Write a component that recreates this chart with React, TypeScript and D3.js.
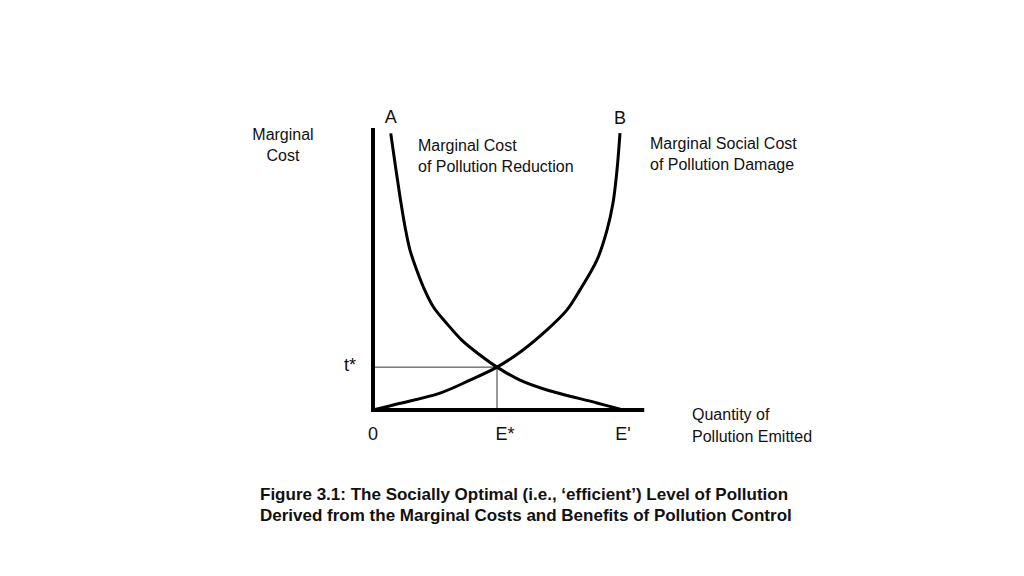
import React, { useEffect, useRef } from 'react'
import * as d3 from 'd3'

// quantity of pollution emitted (E' = 10), marginal cost (0..10)
const mcReduction: [number, number][] = [
  [0.71, 9.81], [0.92, 8.51], [1.1, 7.45], [1.28, 6.5], [1.48, 5.67],
  [1.75, 4.96], [2.01, 4.37], [2.41, 3.66], [2.95, 3.07], [3.55, 2.48],
  [4.28, 1.95], [4.96, 1.52], [5.88, 1.06], [6.96, 0.71], [8.96, 0.25],
  [10, 0],
]
const mscDamage: [number, number][] = [
  [0, 0], [0.96, 0.21], [2.68, 0.6], [3.88, 1.06], [4.96, 1.52],
  [6.0, 2.13], [6.96, 2.84], [7.76, 3.55], [8.28, 4.26], [8.96, 5.32],
  [9.36, 6.38], [9.6, 7.34], [9.76, 8.51], [9.88, 9.82],
]
const eStar = 4.96
const tStar = 1.52
const ePrime = 10
const xTicks = [
  { v: 0, label: '0', dx: 0 },
  { v: eStar, label: 'E*', dx: 8 },
  { v: ePrime, label: "E'", dx: 0 },
]
const caption = [
  'Figure 3.1: The Socially Optimal (i.e., \u2018efficient\u2019) Level of Pollution',
  'Derived from the Marginal Costs and Benefits of Pollution Control',
]

export default function App() {
  const ref = useRef<SVGSVGElement>(null)

  useEffect(() => {
    const svg = d3.select(ref.current)
    svg.selectAll('*').remove()
    const font = 'Liberation Sans, Arial, sans-serif'

    const x = d3.scaleLinear().domain([0, 10]).range([373, 623])
    const y = d3.scaleLinear().domain([0, 10]).range([410, 128])

    // guide lines to the equilibrium
    svg.append('line')
      .attr('x1', x(0)).attr('x2', x(eStar))
      .attr('y1', y(tStar)).attr('y2', y(tStar))
      .attr('stroke', '#333').attr('stroke-width', 1)
    svg.append('line')
      .attr('x1', x(eStar)).attr('x2', x(eStar))
      .attr('y1', y(tStar)).attr('y2', y(0))
      .attr('stroke', '#333').attr('stroke-width', 1)

    const line = d3.line<[number, number]>()
      .x(d => x(d[0])).y(d => y(d[1]))
      .curve(d3.curveCatmullRom.alpha(0.5))

    svg.append('path').attr('d', line(mcReduction))
      .attr('fill', 'none').attr('stroke', '#000').attr('stroke-width', 3)
    svg.append('path').attr('d', line(mscDamage))
      .attr('fill', 'none').attr('stroke', '#000').attr('stroke-width', 3)

    // axes
    svg.append('line')
      .attr('x1', x(0)).attr('x2', x(0))
      .attr('y1', y(10)).attr('y2', y(0) + 2)
      .attr('stroke', '#000').attr('stroke-width', 4)
    svg.append('line')
      .attr('x1', x(0) - 2).attr('x2', x(10.85))
      .attr('y1', y(0)).attr('y2', y(0))
      .attr('stroke', '#000').attr('stroke-width', 4)

    const text = (tx: number, ty: number, s: string, size: number, anchor = 'start', weight = 'normal') =>
      svg.append('text')
        .attr('x', tx).attr('y', ty)
        .attr('font-family', font).attr('font-size', size)
        .attr('font-weight', weight)
        .attr('text-anchor', anchor)
        .attr('fill', '#111')
        .text(s)

    // axis tick labels
    xTicks.forEach(t => text(x(t.v) + t.dx, 440, t.label, 18, 'middle'))
    text(x(0) - 23, y(tStar) + 4, 't*', 18, 'middle')

    text(x(mcReduction[0][0]), 123, 'A', 18, 'middle')
    text(x(mscDamage[mscDamage.length - 1][0]), 124, 'B', 18, 'middle')

    text(283, 140, 'Marginal', 16, 'middle')
    text(283, 161, 'Cost', 16, 'middle')
    text(418, 151, 'Marginal Cost', 16)
    text(418, 172, 'of Pollution Reduction', 16)
    text(650, 149, 'Marginal Social Cost', 16)
    text(650, 170, 'of Pollution Damage', 16)
    text(692, 420, 'Quantity of', 16)
    text(692, 442, 'Pollution Emitted', 16)

    caption.forEach((c, i) => text(260, 500 + i * 21, c, 17, 'start', 'bold'))
  }, [])

  return (
    <svg ref={ref} width={1024} height={576}
      style={{ position: 'absolute', left: 0, top: 0, background: '#fff' }} />
  )
}
